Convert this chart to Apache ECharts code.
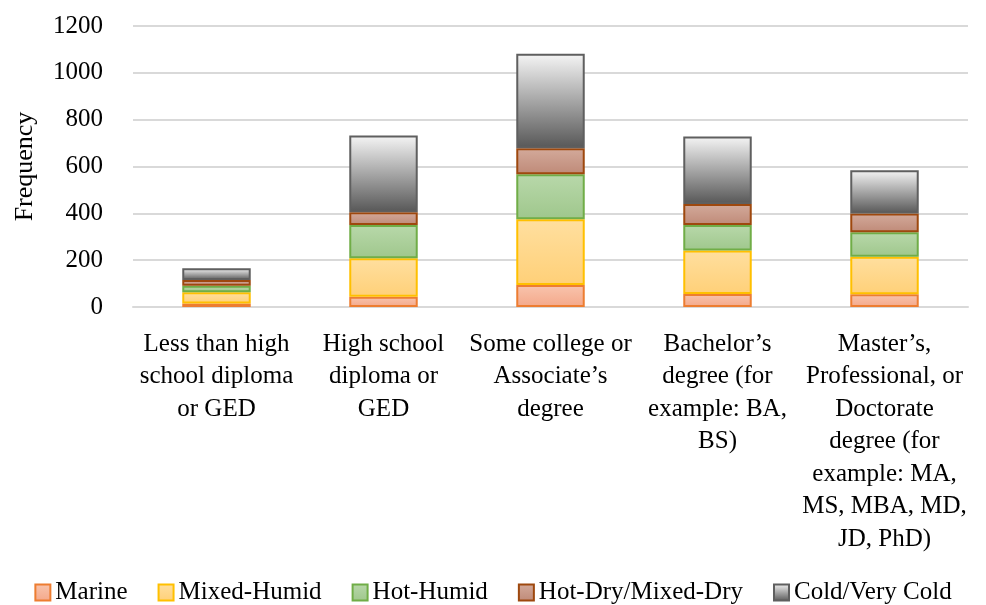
<!DOCTYPE html>
<html>
<head>
<meta charset="utf-8">
<script src="https://cdn.jsdelivr.net/npm/echarts@6/dist/echarts.min.js"></script>
<style>
  html, body { margin: 0; padding: 0; background: #fff; }
  #chart { width: 986px; height: 605px; }
</style>
</head>
<body>
<div id="chart"></div>
<script>
// categories on the x axis
const categories = [
  'Less than high\nschool diploma\nor GED',
  'High school\ndiploma or\nGED',
  'Some college or\nAssociate\u2019s\ndegree',
  'Bachelor\u2019s\ndegree (for\nexample: BA,\nBS)',
  'Master\u2019s,\nProfessional, or\nDoctorate\ndegree (for\nexample: MA,\nMS, MBA, MD,\nJD, PhD)'
];

// series values
const marine = [15, 44, 94, 56, 54];
const mixedHumid = [48, 164, 281, 185, 161];
const hotHumid = [28, 142, 192, 109, 104];
const hotDry = [24, 55, 111, 90, 80];
const coldVeryCold = [50, 327, 403, 288, 185];

const yTicks = { min: 0, max: 1200, interval: 200 };

const fontFamily = '"Liberation Serif", "DejaVu Serif", serif';

function grad(top, bottom) {
  return new echarts.graphic.LinearGradient(0, 0, 0, 1, [
    { offset: 0, color: top },
    { offset: 1, color: bottom }
  ]);
}

function makeSeries(name, data, top, bottom, border) {
  return {
    name: name,
    type: 'bar',
    stack: 'total',
    barWidth: '41%',
    data: data,
    itemStyle: {
      color: grad(top, bottom),
      borderColor: border,
      borderWidth: 2
    }
  };
}

const chart = echarts.init(document.getElementById('chart'));

chart.setOption({
  animation: false,
  textStyle: { fontFamily: fontFamily },
  grid: { left: 133, right: 18, top: 26, bottom: 298 },
  legend: {
    top: 575,
    left: 'center',
    itemWidth: 15,
    itemHeight: 16,
    itemGap: 30,
    icon: 'rect',
    textStyle: { fontFamily: fontFamily, fontSize: 25, color: '#000' }
  },
  xAxis: {
    type: 'category',
    data: categories,
    axisTick: { show: false },
    axisLine: { lineStyle: { color: '#d9d9d9', width: 2 } },
    axisLabel: {
      interval: 0,
      margin: 21,
      fontSize: 25,
      lineHeight: 32.5,
      color: '#000',
      fontFamily: fontFamily
    }
  },
  yAxis: {
    type: 'value',
    min: yTicks.min,
    max: yTicks.max,
    interval: yTicks.interval,
    name: 'Frequency',
    nameLocation: 'middle',
    nameGap: 95,
    nameTextStyle: { fontSize: 26, color: '#000', fontFamily: fontFamily },
    axisLine: { show: false },
    axisTick: { show: false },
    axisLabel: {
      fontSize: 25,
      color: '#000',
      margin: 30,
      fontFamily: fontFamily,
      formatter: function (v) { return String(v); }
    },
    splitLine: { lineStyle: { color: '#d9d9d9', width: 2 } }
  },
  series: [
    makeSeries('Marine', marine, '#f8c4ad', '#f4a88a', '#ed7d31'),
    makeSeries('Mixed-Humid', mixedHumid, '#ffdf9f', '#ffd078', '#ffc000'),
    makeSeries('Hot-Humid', hotHumid, '#b8d8aa', '#9fc78c', '#70ad47'),
    makeSeries('Hot-Dry/Mixed-Dry', hotDry, '#d3aa9b', '#bf8a78', '#9e480e'),
    makeSeries('Cold/Very Cold', coldVeryCold, '#f5f5f5', '#575757', '#5f5f5f')
  ]
});
</script>
</body>
</html>
